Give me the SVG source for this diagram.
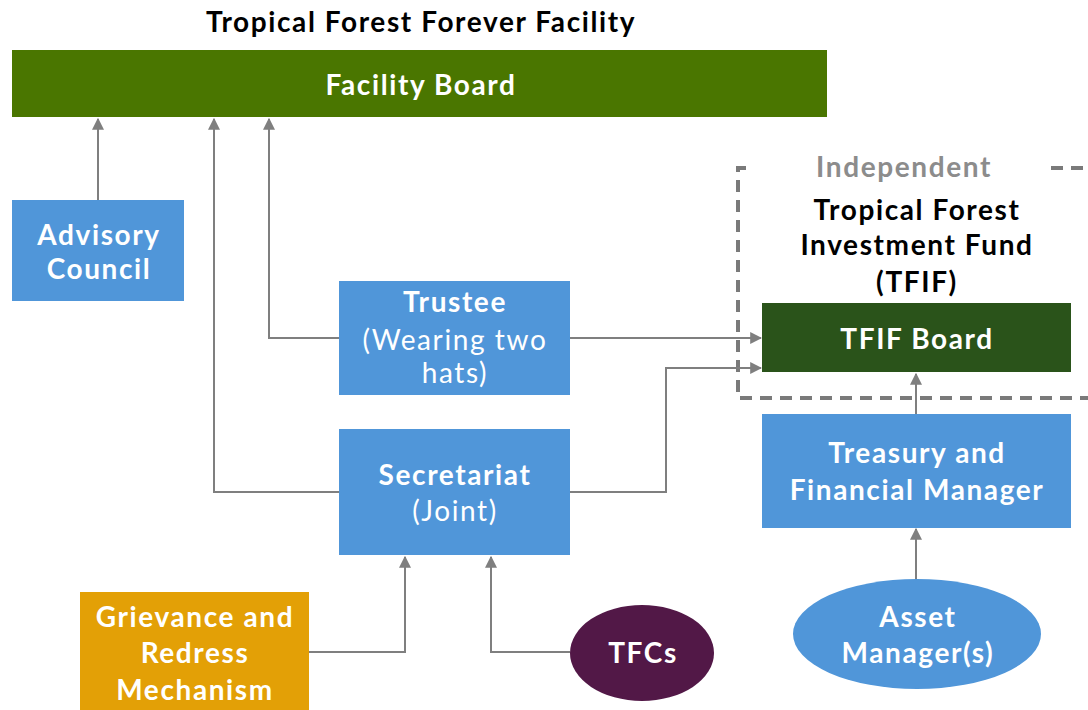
<svg xmlns="http://www.w3.org/2000/svg" width="1088" height="710" viewBox="0 0 1088 710">
  <style>
    text { font-family: Lato, "Open Sans", "Liberation Sans", sans-serif; text-anchor: middle; font-size: 28px; letter-spacing: 1.6px; }
    .t { font-weight: bold; fill: #ffffff; }
    .l { font-weight: normal; fill: #ffffff; }
    .h { font-weight: bold; fill: #000000; }
    .g { font-weight: bold; fill: #8c8c8c; }
    .blue { fill: #5096d9; }
    .conn { fill: none; stroke: #7f7f7f; stroke-width: 2; }
    .dash { fill: none; stroke: #7a7a7a; stroke-width: 4; stroke-dasharray: 12 8; }
  </style>
  <defs>
    <marker id="arrow" viewBox="0 0 10 10" refX="9" refY="5" markerWidth="6" markerHeight="6" orient="auto" markerUnits="strokeWidth">
      <path d="M0,0 L10,5 L0,10 z" fill="#7f7f7f"/>
    </marker>
  </defs>

  <rect width="1088" height="710" fill="#ffffff"/>

  <!-- Headline -->
  <text class="h" x="421" y="32">Tropical Forest Forever Facility</text>

  <!-- Independent fund boundary -->
  <g id="independent-boundary">
    <path class="dash" d="M746,168 H738 V398 H1088"/>
    <path class="dash" d="M1051,168 H1088"/>
    <text class="g" x="904" y="177">Independent</text>
    <text class="h" x="917" y="220">Tropical Forest</text>
    <text class="h" x="917" y="255">Investment Fund</text>
    <text class="h" x="917" y="292">(TFIF)</text>
  </g>

  <!-- Connectors -->
  <g id="connectors">
    <path class="conn" d="M98,200 V119" marker-end="url(#arrow)"/>
    <path class="conn" d="M339,338 H269 V119" marker-end="url(#arrow)"/>
    <path class="conn" d="M339,492 H214 V119" marker-end="url(#arrow)"/>
    <path class="conn" d="M570,338 H761" marker-end="url(#arrow)"/>
    <path class="conn" d="M570,492 H666 V368 H761" marker-end="url(#arrow)"/>
    <path class="conn" d="M916,414 V374" marker-end="url(#arrow)"/>
    <path class="conn" d="M916,579 V529" marker-end="url(#arrow)"/>
    <path class="conn" d="M309,652 H405 V557" marker-end="url(#arrow)"/>
    <path class="conn" d="M570,652 H491 V557" marker-end="url(#arrow)"/>
  </g>

  <g id="facility-board">
    <rect x="12" y="50" width="815" height="67" fill="#4a7600"/>
    <text class="t" x="421" y="95">Facility Board</text>
  </g>

  <g id="advisory-council">
    <rect class="blue" x="12" y="200" width="172" height="101"/>
    <text class="t" x="99" y="245">Advisory</text>
    <text class="t" x="99" y="279">Council</text>
  </g>

  <g id="trustee">
    <rect class="blue" x="339" y="281" width="231" height="114"/>
    <text class="t" x="455" y="312">Trustee</text>
    <text class="l" x="455" y="350">(Wearing two</text>
    <text class="l" x="455" y="383">hats)</text>
  </g>

  <g id="secretariat">
    <rect class="blue" x="339" y="429" width="231" height="126"/>
    <text class="t" x="455" y="485">Secretariat</text>
    <text class="l" x="455" y="521">(Joint)</text>
  </g>

  <g id="tfif-board">
    <rect x="762" y="303" width="309" height="69" fill="#2a531a"/>
    <text class="t" x="917" y="349">TFIF Board</text>
  </g>

  <g id="treasury">
    <rect class="blue" x="762" y="414" width="309" height="114"/>
    <text class="t" x="917" y="463">Treasury and</text>
    <text class="t" x="917" y="500">Financial Manager</text>
  </g>

  <g id="asset-managers">
    <ellipse class="blue" cx="917" cy="634" rx="124" ry="55"/>
    <text class="t" x="918" y="627">Asset</text>
    <text class="t" x="918" y="663">Manager(s)</text>
  </g>

  <g id="grievance">
    <rect x="80" y="592" width="229" height="130" fill="#e3a006"/>
    <text class="t" x="195" y="627">Grievance and</text>
    <text class="t" x="195" y="663">Redress</text>
    <text class="t" x="195" y="700">Mechanism</text>
  </g>

  <g id="tfcs">
    <ellipse cx="642" cy="653" rx="72" ry="48" fill="#521847"/>
    <text class="t" x="643" y="663">TFCs</text>
  </g>
</svg>
